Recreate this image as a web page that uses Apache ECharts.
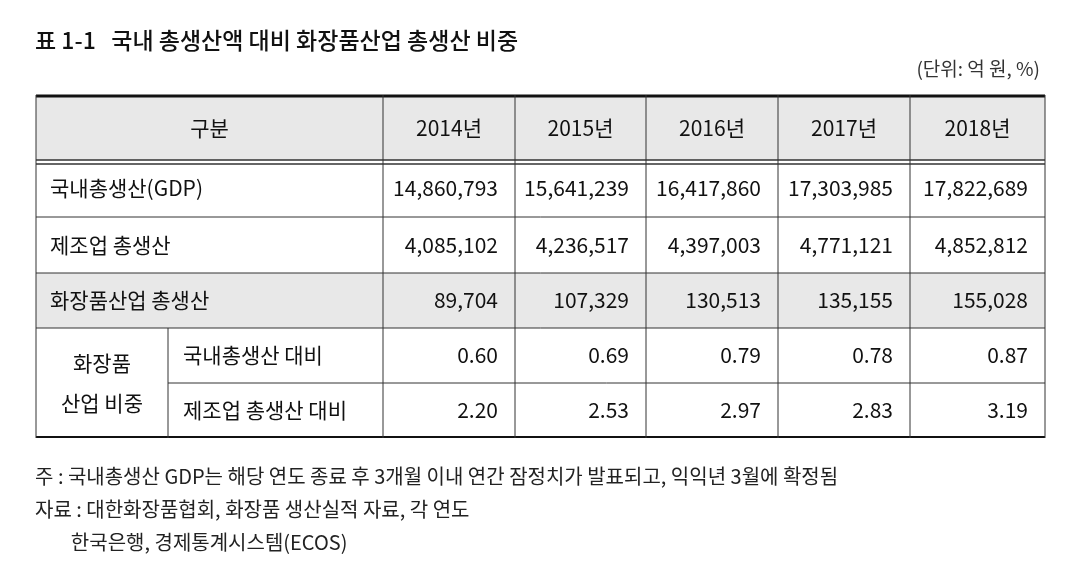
<!DOCTYPE html><html><head><meta charset="utf-8"><script src="https://cdn.jsdelivr.net/npm/echarts@6/dist/echarts.min.js"></script>
<style>html,body{margin:0;background:#fff}#c{width:1077px;height:566px}</style></head><body><div id="c"></div><script>
const title = '표 1-1   국내 총생산액 대비 화장품산업 총생산 비중';
const unit = '(단위: 억 원, %)';
const years = ['2014년','2015년','2016년','2017년','2018년'];
const rowLabels = ['국내총생산(GDP)','제조업 총생산','화장품산업 총생산'];
const gdp = ['14,860,793','15,641,239','16,417,860','17,303,985','17,822,689'];
const mfg = ['4,085,102','4,236,517','4,397,003','4,771,121','4,852,812'];
const cos = ['89,704','107,329','130,513','135,155','155,028'];
const ratioGroup = '화장품\n산업 비중';
const ratioLabels = ['국내총생산 대비','제조업 총생산 대비'];
const ratioGdp = ['0.60','0.69','0.79','0.78','0.87'];
const ratioMfg = ['2.20','2.53','2.97','2.83','3.19'];
const notes = ['주 : 국내총생산 GDP는 해당 연도 종료 후 3개월 이내 연간 잠정치가 발표되고, 익익년 3월에 확정됨','자료 : 대한화장품협회, 화장품 생산실적 자료, 각 연도','        한국은행, 경제통계시스템(ECOS)'];

const F = '"Noto Sans CJK KR","Noto Sans",sans-serif';
const colX = [36,383,515,646,778,910,1045], subX = 168;
const rowY = [95,160,217,273,328,383,438];
const g = [];
const txt = (x,y,s,opt={}) => g.push({type:'text',x,y,style:Object.assign({text:s,font:'21px '+F,fill:'#111',textAlign:'left',textVerticalAlign:'middle'},opt)});
const line = (x1,y1,x2,y2,w=1,c='#333') => g.push({type:'line',shape:{x1,y1,x2,y2},style:{stroke:c,lineWidth:w}});
const rect = (x,y,w,h,c) => g.push({type:'rect',shape:{x,y,width:w,height:h},style:{fill:c}});
rect(36,95,1009,65,'#e8e8e8'); rect(36,273,1009,55,'#e8e8e8');
txt(35,40,title,{font:'500 23px '+F});
txt(1040,69,unit,{textAlign:'right',font:'19px '+F,fill:'#333'});
txt((36+383)/2,128,'구분',{textAlign:'center'});
years.forEach((y,i)=>txt((colX[i+1]+colX[i+2])/2,128,y,{textAlign:'center'}));
const dataRows=[gdp,mfg,cos];
dataRows.forEach((r,ri)=>{const cy=(rowY[ri+1]+rowY[ri+2])/2;txt(50,cy,rowLabels[ri]);
 r.forEach((v,i)=>txt(colX[i+2]-17,cy,v,{textAlign:'right'}));});
txt((36+subX)/2,383,ratioGroup,{textAlign:'center',lineHeight:40});
[ratioGdp,ratioMfg].forEach((r,ri)=>{const cy=(rowY[ri+4]+rowY[ri+5])/2;txt(183,cy,ratioLabels[ri]);
 r.forEach((v,i)=>txt(colX[i+2]-17,cy,v,{textAlign:'right'}));});
line(36,96,1045,96,3,'#111'); line(36,437,1045,437,2,'#111');
line(36,160,1045,160,1.5); line(36,164,1045,164,1.5);
[217,273,328].forEach(y=>line(36,y,1045,y));
line(subX,383,1045,383);
[36,1045].forEach(x=>line(x,95,x,438));
colX.slice(1,6).forEach(x=>line(x,95,x,438));
line(subX,328,subX,438);
notes.forEach((n,i)=>txt(35,476+i*33,n,{font:'20px '+F,fill:'#222'}));
const ch=echarts.init(document.getElementById('c'));
ch.setOption({animation:false,graphic:g});
</script></body></html>
